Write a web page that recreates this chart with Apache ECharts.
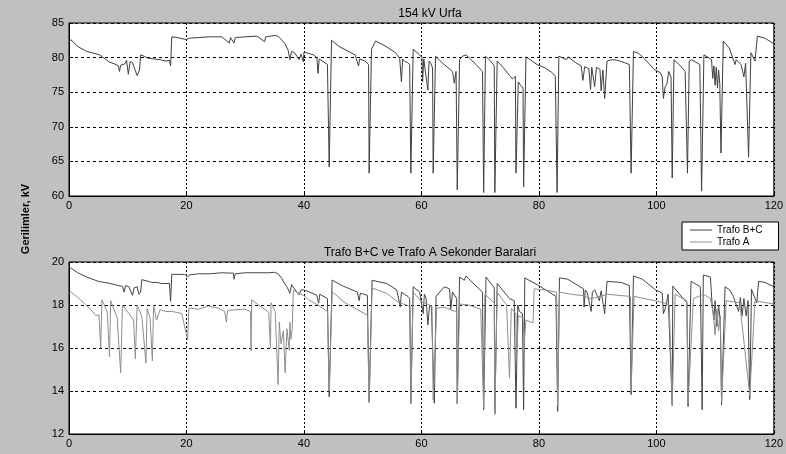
<!DOCTYPE html>
<html>
<head>
<meta charset="utf-8">
<script src="https://cdn.jsdelivr.net/npm/echarts@6/dist/echarts.min.js"></script>
<style>
html,body{margin:0;padding:0;background:#c0c0c0;}
#c{width:786px;height:454px;}
</style>
</head>
<body>
<div id="c"></div>
<script>
// Tick values
const xTicks = [0, 20, 40, 60, 80, 100, 120];
const urfaTicks = [60, 65, 70, 75, 80, 85];
const trafoTicks = [12, 14, 16, 18, 20];

// 154 kV Urfa  [time, kV]
const urfa = [
[0,82.2],[0.3,82.6],[0.6,82.5],[1.5,81.6],[3,80.9],[5.2,80.4],[6.8,79.4],[8.0,79.0],[8.4,78.8],[8.6,78.0],[8.8,78.9],[9.5,79.1],[9.8,79.6],[10.1,77.6],[10.4,79.4],[10.8,79.3],[11.1,79.5],[11.6,77.4],[12.0,78.2],[12.2,80.4],[12.8,80.2],[13.5,79.9],[14.5,79.8],[15.5,79.7],[16.5,79.5],[17.1,79.6],[17.3,78.8],[17.5,83.0],[18.5,82.9],[19.9,82.6],[20.5,82.8],[22,82.9],[24,83.0],[26,83.0],[27.3,82.1],[27.5,82.9],[28.1,82.1],[28.3,82.9],[30,83.0],[32,83.1],[33.3,82.3],[33.5,83.0],[35.0,83.2],[35.6,83.1],[36.7,82.1],[37.3,81.1],[37.6,79.7],[37.9,80.9],[38.4,80.7],[38.8,80.2],[39.2,79.7],[39.5,80.5],[39.9,79.4],[40.0,80.8],[41.6,80.4],[42.2,80.0],[42.4,77.7],[42.6,79.8],[42.9,79.7],[44.0,79.0],[44.3,64.2],[44.7,82.5],[46,81.6],[48.7,80.4],[49.3,78.8],[49.5,79.8],[50.4,79.5],[51.0,79.0],[51.1,63.3],[51.5,81.2],[52.2,82.4],[54,81.6],[55.6,80.7],[56.3,79.9],[56.6,76.5],[56.8,79.8],[57.1,79.5],[57.6,79.3],[58.0,79.0],[58.2,63.3],[58.6,81.2],[58.9,81.0],[59.7,80.4],[60.1,80.0],[60.2,76.5],[60.4,79.8],[60.7,79.9],[61.1,75.3],[61.3,79.5],[61.6,79.2],[61.9,78.5],[62.0,63.3],[62.4,80.2],[63.6,79.2],[65.3,78.0],[65.6,76.3],[65.9,78.0],[66.1,60.9],[66.5,79.7],[67.0,80.2],[67.6,80.4],[68.2,79.9],[69.3,79.0],[70.4,78.0],[70.6,60.5],[70.9,80.2],[71.8,79.5],[72.4,78.8],[72.5,60.5],[72.9,79.5],[74.0,78.5],[75.0,77.4],[75.5,76.9],[76.0,77.3],[76.1,63.3],[76.5,76.5],[76.9,76.0],[77.3,75.6],[77.4,61.3],[77.8,80.1],[79.7,79.0],[81.1,78.5],[82.3,77.8],[82.8,77.3],[83.1,60.5],[83.4,80.2],[84.7,79.7],[85.0,80.1],[86.2,79.3],[87.2,78.8],[87.5,76.7],[87.8,78.7],[88.5,78.4],[88.8,75.4],[89.0,78.6],[89.5,75.8],[89.8,78.6],[90.4,78.3],[90.6,75.2],[90.9,78.2],[91.2,74.1],[91.6,79.5],[92.5,79.7],[93.4,79.6],[94.5,79.3],[95.4,79.0],[95.7,63.3],[96.1,80.9],[97.0,80.6],[97.9,79.9],[99.0,78.9],[99.6,78.3],[100.7,77.8],[101.0,77.2],[101.2,74.1],[101.5,75.8],[101.8,76.2],[102.1,78.0],[102.5,77.2],[102.7,62.6],[103.0,79.7],[104.0,78.9],[104.9,78.0],[105.3,63.3],[105.6,79.5],[106.0,79.7],[107.4,79.0],[107.7,60.7],[108.1,80.4],[109.4,79.7],[109.6,77.0],[109.8,78.8],[110.0,76.0],[110.2,78.6],[110.4,75.6],[110.6,78.2],[110.8,76.2],[111.0,66.2],[111.4,82.4],[112.4,81.4],[113.4,79.0],[113.6,79.7],[114.4,79.0],[114.7,78.0],[114.9,77.2],[115.2,79.2],[115.5,79.0],[115.7,65.6],[116.1,80.7],[116.8,79.5],[117.2,83.1],[118.5,82.8],[120,82.0]
];

// Trafo B+C secondary bus [time, kV]
const trafoBC = [
[0,19.78],[0.4,19.7],[1.5,19.5],[3,19.3],[5,19.1],[7.0,19.0],[8.5,18.9],[9.1,18.87],[9.4,18.6],[9.6,18.9],[10.2,18.85],[10.5,18.9],[10.8,18.45],[11.1,18.8],[11.6,18.85],[11.9,18.5],[12.2,18.6],[12.4,19.18],[13.5,19.1],[14.1,19.05],[15.0,19.05],[15.7,19.0],[17.1,19.0],[17.3,18.17],[17.5,19.43],[19.7,19.42],[20.2,19.3],[20.5,19.4],[22,19.45],[24,19.45],[26,19.5],[28.0,19.48],[28.1,19.2],[28.3,19.45],[30,19.5],[32,19.5],[34,19.5],[35.0,19.52],[35.6,19.45],[36.2,19.25],[36.7,19.0],[37.2,18.8],[37.6,18.54],[37.9,18.95],[38.4,18.75],[38.8,18.6],[39.2,18.47],[39.5,18.7],[40.0,18.7],[41.4,18.55],[42.2,18.45],[42.5,18.08],[42.7,18.5],[44.0,18.3],[44.3,13.73],[44.8,19.16],[46.5,18.9],[49.1,18.6],[49.4,18.2],[49.6,18.55],[50.8,18.45],[51.1,13.5],[51.6,19.15],[52.4,19.1],[54.1,19.0],[55.8,18.7],[56.4,17.92],[56.6,18.6],[57.1,18.5],[57.7,18.4],[58.0,18.3],[58.2,13.43],[58.6,18.85],[59.7,18.6],[60.3,17.6],[60.5,18.5],[60.8,18.3],[61.1,17.07],[61.4,18.0],[61.7,17.9],[62.0,17.9],[62.2,13.43],[62.5,18.4],[63.9,18.85],[64.8,18.75],[65.0,17.8],[65.3,18.6],[65.6,18.55],[66.0,18.3],[66.1,13.43],[66.5,19.3],[67.3,19.15],[67.6,19.35],[68.1,19.2],[70.4,18.6],[70.6,13.13],[71.0,19.3],[72.4,18.8],[72.5,12.97],[72.9,19.0],[75.0,18.3],[75.8,18.2],[76.1,13.2],[76.4,18.0],[76.7,17.7],[77.2,17.6],[77.4,13.13],[77.6,19.26],[80,18.9],[82.9,18.4],[83.2,13.05],[83.5,19.26],[84.9,19.2],[85.5,19.1],[87.6,18.75],[87.7,17.9],[87.9,18.7],[88.2,18.6],[88.9,17.7],[89.1,18.6],[89.5,18.71],[90.3,18.2],[90.6,18.65],[91.2,17.6],[91.6,19.1],[94.0,19.05],[95.4,18.9],[95.7,13.83],[96.1,19.35],[97.6,19.2],[99.9,18.7],[101.0,18.55],[101.2,17.6],[101.6,17.9],[102.0,18.5],[102.7,13.36],[102.8,18.88],[105.2,18.1],[105.4,13.28],[105.9,19.1],[107.5,18.85],[107.8,13.13],[108.0,19.4],[109.2,19.3],[109.5,18.0],[109.8,17.3],[110.0,18.2],[110.3,17.0],[110.6,18.0],[110.9,17.2],[111.1,13.36],[111.7,18.85],[112.5,18.7],[113.1,18.4],[114.0,17.7],[114.3,18.35],[114.6,17.5],[114.9,18.3],[115.3,17.5],[115.6,18.2],[115.9,13.6],[116.2,18.73],[117.1,18.1],[117.4,19.1],[118.5,19.05],[120,18.85]
];

// Trafo A secondary bus [time, kV]
const trafoA = [
[0,18.55],[0.4,18.6],[1.5,18.35],[2.9,18.0],[4.0,17.7],[4.6,17.5],[5.1,17.55],[5.4,16.0],[5.6,18.25],[6.5,17.7],[6.9,15.6],[7.1,18.2],[8.2,17.4],[8.8,14.84],[9.1,18.0],[10.2,17.6],[11.0,17.3],[11.3,15.5],[11.6,18.0],[12.4,17.45],[13.1,15.3],[13.3,17.85],[13.8,17.4],[14.2,15.4],[14.4,18.0],[14.9,17.3],[15.5,17.78],[16.5,17.7],[17.5,17.7],[18.5,17.65],[19.2,17.6],[20.2,16.39],[20.4,17.86],[22.0,17.8],[23.7,17.95],[25.4,17.85],[26.5,17.7],[26.8,17.2],[27.0,17.75],[29.9,17.81],[30.9,17.7],[31.0,15.86],[31.1,18.24],[32.5,17.95],[34.0,17.67],[34.3,16.0],[34.4,18.1],[35.1,17.7],[35.6,14.3],[35.8,17.2],[36.1,16.2],[36.5,16.8],[36.8,14.84],[37.1,16.9],[37.5,15.9],[37.6,17.2],[37.8,16.4],[38.0,16.9],[38.2,18.7],[38.8,18.6],[39.9,18.45],[41.0,18.2],[42.4,18.0],[44.0,17.7],[44.3,14.0],[44.8,18.62],[47,18.1],[49.0,17.8],[50.8,17.53],[51.1,13.45],[51.6,18.79],[54.1,18.54],[56.2,18.1],[57.5,18.0],[58.1,17.9],[58.2,13.4],[58.6,18.6],[59.9,18.17],[60.5,18.1],[61.8,17.95],[62.0,13.6],[62.6,17.85],[64.0,17.9],[65.2,17.75],[66.0,17.7],[66.1,13.4],[66.5,18.05],[68.0,18.0],[70.1,17.81],[70.6,13.2],[70.8,18.5],[72.4,18.1],[72.5,12.9],[72.9,18.6],[74.5,18.0],[75.0,14.6],[75.3,17.85],[76.1,17.6],[76.2,15.5],[76.5,17.5],[77.3,17.4],[77.5,16.2],[77.8,17.3],[79.0,17.16],[79.2,18.75],[81,18.7],[83.0,18.6],[83.2,13.3],[83.5,18.6],[85.5,18.5],[87.7,18.43],[88.5,18.3],[89.5,18.33],[91.7,18.5],[93.5,18.45],[95.6,18.4],[95.7,14.0],[96.2,18.4],[99.7,18.2],[101.3,18.1],[102.2,18.0],[102.7,13.3],[103.2,18.5],[105.2,18.2],[105.4,13.4],[106.3,18.3],[108.0,18.5],[109.2,18.3],[109.7,17.6],[110.0,16.6],[110.3,17.8],[110.6,16.8],[110.9,17.5],[111.1,13.5],[111.9,18.2],[114.2,18.1],[115.9,13.8],[116.8,18.2],[118.8,18.1],[120,18.05]
];

const FONT = '"Liberation Sans", Arial, sans-serif';
const chart = echarts.init(document.getElementById('c'), null, {renderer: 'canvas'});

function xAx(gi) {
  return {
    type: 'value', gridIndex: gi, min: xTicks[0], max: xTicks[xTicks.length-1], interval: 20,
    axisLine: {show: true, onZero: false, lineStyle: {color: '#000', width: 1}},
    axisTick: {show: true, inside: true, length: 4, lineStyle: {color: '#000'}},
    axisLabel: {color: '#000', fontSize: 11, fontFamily: FONT, margin: 4},
    splitLine: {show: true, lineStyle: {color: '#000', type: [2, 2], width: 1}}
  };
}
function yAx(gi, ticks) {
  return {
    type: 'value', gridIndex: gi, min: ticks[0], max: ticks[ticks.length-1], interval: ticks[1]-ticks[0],
    axisLine: {show: true, onZero: false, lineStyle: {color: '#000', width: 1}},
    axisTick: {show: true, inside: true, length: 4, lineStyle: {color: '#000'}},
    axisLabel: {color: '#000', fontSize: 11, fontFamily: FONT, margin: 5},
    splitLine: {show: true, lineStyle: {color: '#000', type: [3, 3], width: 1}}
  };
}

chart.setOption({
  animation: false,
  backgroundColor: '#c0c0c0',
  title: [
    {text: '154 kV Urfa', left: 425, top: 3, textAlign: 'center',
     textStyle: {fontSize: 12, fontWeight: 'normal', color: '#000', fontFamily: FONT}},
    {text: 'Trafo B+C ve Trafo A Sekonder Baralari', left: 425, top: 242, textAlign: 'center',
     textStyle: {fontSize: 12, fontWeight: 'normal', color: '#000', fontFamily: FONT}}
  ],
  legend: {
    data: [
      {name: 'Trafo B+C', icon: 'rect', itemStyle: {color: '#454545'}},
      {name: 'Trafo A', icon: 'rect', itemStyle: {color: '#8e8e8e'}}
    ],
    orient: 'vertical', left: 682, top: 222,
    backgroundColor: '#fff', borderColor: '#000', borderWidth: 1,
    padding: [3, 16, 3, 8], itemGap: 2, itemWidth: 22, itemHeight: 1,
    textStyle: {fontSize: 10, color: '#000', fontFamily: FONT, lineHeight: 10}
  },
  grid: [
    {left: 69, top: 23, width: 712, height: 173, show: true, backgroundColor: '#fff', borderColor: '#000', borderWidth: 1},
    {left: 69, top: 262, width: 712, height: 172, show: true, backgroundColor: '#fff', borderColor: '#000', borderWidth: 1}
  ],
  xAxis: [xAx(0), xAx(1)],
  yAxis: [yAx(0, urfaTicks), yAx(1, trafoTicks)],
  graphic: [
    {type: 'text', x: 26, y: 219, rotation: Math.PI/2,
     style: {text: 'Gerilimler, kV', font: 'bold 11px ' + FONT, fill: '#000', textAlign: 'center', textVerticalAlign: 'middle'}}
  ],
  series: [
    {name: '154 kV Urfa', type: 'line', xAxisIndex: 0, yAxisIndex: 0, data: urfa,
     symbol: 'none', lineStyle: {color: '#404040', width: 1}, itemStyle: {color: '#404040'}},
    {name: 'Trafo B+C', type: 'line', xAxisIndex: 1, yAxisIndex: 1, data: trafoBC,
     symbol: 'none', lineStyle: {color: '#454545', width: 1}, itemStyle: {color: '#454545'}},
    {name: 'Trafo A', type: 'line', xAxisIndex: 1, yAxisIndex: 1, data: trafoA,
     symbol: 'none', lineStyle: {color: '#8e8e8e', width: 1}, itemStyle: {color: '#8e8e8e'}}
  ]
});
</script>
</body>
</html>
